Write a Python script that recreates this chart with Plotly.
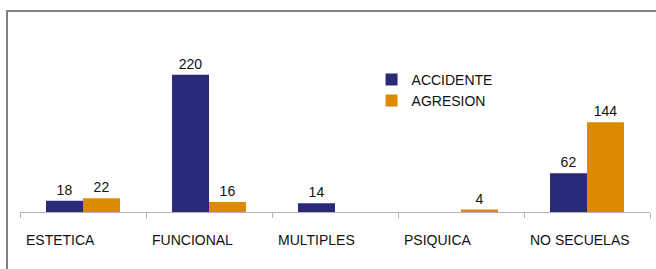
import plotly.graph_objects as go

categories = ["ESTETICA", "FUNCIONAL", "MULTIPLES", "PSIQUICA", "NO SECUELAS"]
accidente = [18, 220, 14, None, 62]
agresion = [22, 16, None, 4, 144]
series_names = ["ACCIDENTE", "AGRESION"]

FONT = "Liberation Sans, Arial, sans-serif"

def labels(vals):
    return [("" if v is None else str(v)) for v in vals]

fig = go.Figure()
fig.add_trace(go.Bar(
    x=categories, y=accidente, name=series_names[0],
    marker=dict(color="#2a2b78", line=dict(width=0)),
    text=labels(accidente), textposition="outside", cliponaxis=False,
    textfont=dict(family=FONT, size=14, color="#111111"),
))
fig.add_trace(go.Bar(
    x=categories, y=agresion, name=series_names[1],
    marker=dict(color="#dc8a00", line=dict(width=0)),
    text=labels(agresion), textposition="outside", cliponaxis=False,
    textfont=dict(family=FONT, size=14, color="#111111"),
))

# category labels, left-aligned just after each category boundary
annotations = [
    dict(x=c, y=0, xref="x", yref="paper", text=c, showarrow=False,
         xanchor="left", yanchor="middle", xshift=-59, yshift=-28,
         font=dict(family=FONT, size=14, color="#111111"))
    for c in categories
]

fig.update_layout(
    width=656, height=269,
    margin=dict(l=20, r=6, t=56, b=57),
    paper_bgcolor="white", plot_bgcolor="white",
    barmode="group", bargap=0.413, bargroupgap=0,
    font=dict(family=FONT, size=14, color="#111111"),
    showlegend=True,
    legend=dict(
        x=0.558, y=0.95, xanchor="left", yanchor="top",
        bgcolor="rgba(0,0,0,0)", borderwidth=0,
        font=dict(family=FONT, size=14, color="#111111"),
        itemwidth=30, tracegroupgap=0,
    ),
    xaxis=dict(
        type="category", showline=True, linecolor="#b4b4b4", linewidth=1,
        ticks="outside", ticklen=5, tickcolor="#b4b4b4", tickson="boundaries",
        showgrid=False, showticklabels=False, mirror=False,
    ),
    yaxis=dict(
        range=[0, 250], showgrid=False, zeroline=False, showline=False,
        showticklabels=False, ticks="",
    ),
    annotations=annotations,
    shapes=[dict(
        type="rect", xref="paper", yref="paper",
        x0=-0.0206, x1=1.02, y0=-0.4, y1=1.288,
        line=dict(color="#808080", width=2), fillcolor="rgba(0,0,0,0)",
        layer="below",
    )],
)

fig.write_html(
    "out.html",
    config={"displayModeBar": False},
    post_script="document.body.style.margin='0';document.body.style.padding='0';",
)
